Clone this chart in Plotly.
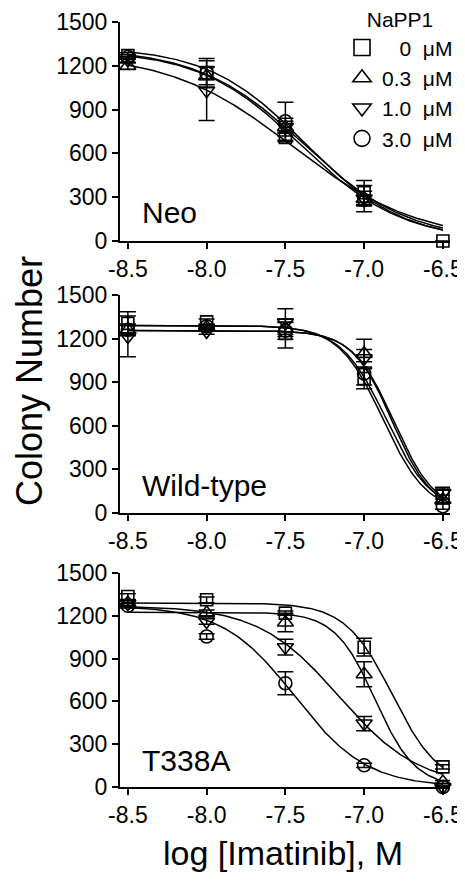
import numpy as np
import plotly.graph_objects as go

# ---------------- data ----------------
log_imatinib = [-8.5, -8.0, -7.5, -7.0, -6.5]
x_tick_vals = [-8.5, -8.0, -7.5, -7.0, -6.5]
x_tick_text = ["-8.5", "-8.0", "-7.5", "-7.0", "-6.5"]
y_tick_vals = [0, 300, 600, 900, 1200, 1500]

series_names = ["0", "0.3", "1.0", "3.0"]
legend_labels = ["\u2007\u20080\u00a0\u00a0\u03bcM", "0.3\u00a0\u00a0\u03bcM",
                 "1.0\u00a0\u00a0\u03bcM", "3.0\u00a0\u00a0\u03bcM"]
panel_labels = ["Neo", "Wild-type", "T338A"]

# Neo
neo_0 = [1270, 1150, 710, 330, 0]
neo_0_err = [20, 45, 30, 85, 0]
neo_03 = [1200, 1130, 780, 290, None]
neo_03_err = [25, 60, 40, 90, 0]
neo_10 = [1240, 1030, 780, 290, None]
neo_10_err = [20, 205, 60, 50, 0]
neo_30 = [1260, 1150, 820, 280, None]
neo_30_err = [15, 100, 130, 30, 0]

# Wild-type
wt_0 = [1305, 1315, 1235, 925, 115]
wt_0_err = [80, 20, 100, 70, 50]
wt_03 = [1260, 1280, 1270, 1095, 92]
wt_03_err = [30, 15, 40, 100, 30]
wt_10 = [1215, 1250, 1310, 1065, 137]
wt_10_err = [140, 20, 95, 60, 40]
wt_30 = [1260, 1285, 1255, 960, 46]
wt_30_err = [40, 15, 60, 80, 20]

# T338A
t_0 = [1335, 1312, 1219, 980, 141]
t_0_err = [20, 20, 15, 62, 15]
t_03 = [1290, 1220, 1153, 790, 35]
t_03_err = [20, 20, 65, 88, 10]
t_10 = [1285, 1160, 980, 445, 0]
t_10_err = [20, 20, 55, 50, 5]
t_30 = [1270, 1055, 727, 152, 0]
t_30_err = [15, 20, 80, 15, 5]

# fitted 4-parameter logistic parameters: (top, bottom, logIC50, hill)
neo_fit = [(1320, 0, -7.38, 1.30), (1310, 0, -7.40, 1.35), (1290, 0, -7.45, 1.10), (1330, 0, -7.37, 1.40)]
wt_fit = [(1290, 0, -6.86, 3.0), (1255, 0, -6.82, 3.4), (1255, 0, -6.81, 3.3), (1290, 0, -6.88, 3.1)]
t_fit = [(1290, 0, -6.82, 2.9), (1225, 0, -6.93, 3.4), (1270, 0, -7.16, 1.7), (1270, 0, -7.44, 1.9)]

panels = [
    ([neo_0, neo_03, neo_10, neo_30], [neo_0_err, neo_03_err, neo_10_err, neo_30_err], neo_fit),
    ([wt_0, wt_03, wt_10, wt_30], [wt_0_err, wt_03_err, wt_10_err, wt_30_err], wt_fit),
    ([t_0, t_03, t_10, t_30], [t_0_err, t_03_err, t_10_err, t_30_err], t_fit),
]

# ---------------- style ----------------
PAGE_MARGIN = 8            # default body margin of the html page
W, H = 465 - PAGE_MARGIN, 881 - 2 * PAGE_MARGIN
FONT = "Liberation Sans, Arial, Helvetica, sans-serif"
symbols = ["square-open", "triangle-up-open", "triangle-down-open", "circle-open"]
sizes = [12, 14, 14, 13]
legend_sizes = [16, 16, 16, 16]


def fx(px):
    return (px - PAGE_MARGIN) / W


def fy(py):
    return 1 - (py - PAGE_MARGIN) / H


x_dom = [fx(120), fx(450)]
y_doms = [[fy(241), fy(22)], [fy(513), fy(295)], [fy(787), fy(573)]]
label_y = [213, 485, 760]


def logistic(x, top, bottom, ic, h):
    return bottom + (top - bottom) / (1 + 10 ** ((x - ic) * h))


fig = go.Figure()
xc = np.linspace(log_imatinib[0], log_imatinib[-1], 300)

for p, (vals, errs, fits) in enumerate(panels):
    xa = "x" if p == 0 else f"x{p + 1}"
    ya = "y" if p == 0 else f"y{p + 1}"
    for s in range(4):
        top, bottom, ic, h = fits[s]
        fig.add_trace(go.Scatter(
            x=xc, y=logistic(xc, top, bottom, ic, h), mode="lines",
            line=dict(color="black", width=1.5), xaxis=xa, yaxis=ya,
            showlegend=False, hoverinfo="skip", cliponaxis=False))
    for s in range(4):
        fig.add_trace(go.Scatter(
            x=log_imatinib, y=vals[s], mode="markers",
            marker=dict(symbol=symbols[s], size=sizes[s], color="black",
                        line=dict(width=1.6, color="black")),
            error_y=dict(type="data", array=errs[s], visible=True, color="black",
                         thickness=1.5, width=8),
            xaxis=xa, yaxis=ya, showlegend=False, cliponaxis=False))

# legend-only traces
for s in range(4):
    fig.add_trace(go.Scatter(
        x=[None], y=[None], mode="markers", name=legend_labels[s],
        marker=dict(symbol=symbols[s], size=legend_sizes[s], color="black",
                    line=dict(width=1.6, color="black")),
        xaxis="x", yaxis="y", showlegend=True))

axis_common = dict(showline=True, linecolor="black", linewidth=2, ticks="outside",
                   ticklen=6, tickwidth=2, tickcolor="black", showgrid=False,
                   zeroline=False, automargin=False,
                   tickfont=dict(family=FONT, size=23, color="black"))

layout = dict(
    width=W, height=H, margin=dict(l=0, r=0, t=0, b=0, autoexpand=False),
    paper_bgcolor="white", plot_bgcolor="white",
    font=dict(family=FONT, color="black"),
    legend=dict(x=fx(342), y=fy(0), xanchor="left", yanchor="top",
                font=dict(family=FONT, size=21, color="black"),
                title=dict(text="NaPP1", side="top center", font=dict(family=FONT, size=21)),
                bgcolor="rgba(0,0,0,0)", itemsizing="trace", tracegroupgap=0),
)
for p in range(3):
    xk = "xaxis" if p == 0 else f"xaxis{p + 1}"
    yk = "yaxis" if p == 0 else f"yaxis{p + 1}"
    ya = "y" if p == 0 else f"y{p + 1}"
    xa = "x" if p == 0 else f"x{p + 1}"
    layout[xk] = dict(axis_common, domain=x_dom, anchor=ya, range=[-8.55, -6.455],
                      tickvals=x_tick_vals, ticktext=x_tick_text)
    layout[yk] = dict(axis_common, domain=y_doms[p], anchor=xa, range=[0, 1500],
                      tickvals=y_tick_vals)
fig.update_layout(**layout)

for p in range(3):
    fig.add_annotation(text=panel_labels[p], x=fx(140), y=fy(label_y[p]),
                       xref="paper", yref="paper", xanchor="left", yanchor="middle",
                       showarrow=False, font=dict(family=FONT, size=30, color="black"))

fig.add_annotation(text="Colony Number", x=fx(29), y=fy(381), xref="paper", yref="paper",
                   textangle=-90, xanchor="center", yanchor="middle", showarrow=False,
                   font=dict(family=FONT, size=36, color="black"))
fig.add_annotation(text="log [Imatinib], M", x=fx(283), y=fy(873), xref="paper", yref="paper",
                   xanchor="center", yanchor="bottom", showarrow=False, borderpad=0,
                   font=dict(family=FONT, size=34, color="black"))

fig.write_html("out.html")
